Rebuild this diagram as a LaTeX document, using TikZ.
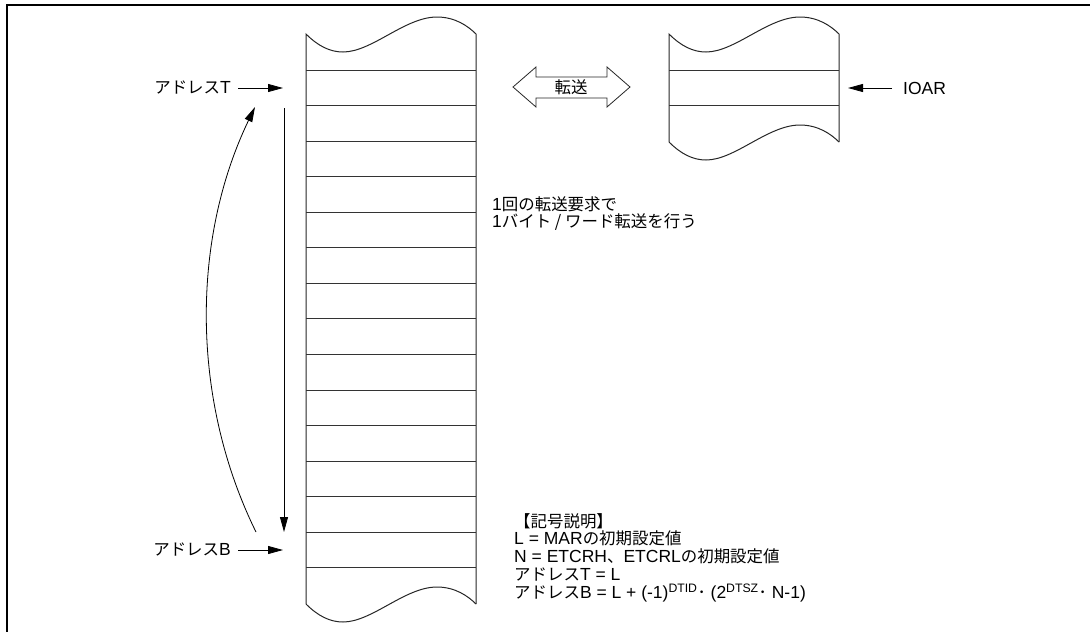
\documentclass[tikz,border=0pt]{standalone}
\usepackage{fontspec}
\setmainfont{Liberation Sans}
\newfontfamily\jp[Scale=0.94]{Noto Sans CJK JP}
\usepackage{tikz}
\usetikzlibrary{arrows.meta}

\begin{document}
\begin{tikzpicture}[
    x=1pt, y=-1pt,
    font=\fontsize{17.5}{17.8}\selectfont,
    mem/.style={draw=black!85, line width=1pt},
    row/.style={draw=black!80, line width=1pt},
    ptr/.style={draw=black, line width=0.8pt, -{Triangle[length=15pt, width=8pt]}},
    lbl/.style={inner sep=0pt},
    txt/.style={inner sep=0pt, anchor=north west, align=left},
]

\def\rowh{35.57}
% wavy cut edge, 170 wide, from the current point
\def\cut{.. controls +(12,12) and +(-13,0) .. ++(37,18)
         .. controls +(29,0) and +(-32,0) .. ++(94,-35)
         .. controls +(18,0) and +(-8,-8) .. ++(39,17)}

\useasboundingbox (0,0) rectangle (1090,632);

% Frame (top and left only)
\draw[line width=2pt] (7,632) -- (7,5) -- (1090,5);

% Memory area
\draw[mem] (306,604) -- (306,34) \cut -- (476,604);
\draw[mem] (306,604) \cut;
\foreach \k in {0,...,14}
    \draw[row] (306,70+\k*\rowh) -- (476,70+\k*\rowh);

% I/O area
\draw[mem] (669,142) -- (669,34) \cut -- (839,142);
\draw[mem] (669,142) \cut;
\foreach \k in {0,1}
    \draw[row] (669,70+\k*\rowh) -- (839,70+\k*\rowh);

% Transfer
\draw[mem, line width=0.8pt] (513,87) -- (536,67) -- (536,77) -- (607,77) -- (607,67)
    -- (630,87) -- (607,107) -- (607,98) -- (536,98) -- (536,107) -- cycle;
\node (xfer) at (571,87) {\jp 転送};

% Pointers
\node[lbl, anchor=east] (adrT) at (231,88) {{\jp アドレス}T};
\node[lbl, anchor=east] (adrB) at (231,550) {{\jp アドレス}B};
\node[lbl, anchor=west] (ioar) at (903,88) {IOAR};
\coordinate (tT) at (283,88);
\coordinate (tB) at (283,550);
\coordinate (tIO) at (848,88);
\draw[ptr, shorten <=7pt] (adrT.east) -- (tT);
\draw[ptr, shorten <=7pt] (adrB.east) -- (tB);
\draw[ptr, shorten <=11pt] (ioar.west) -- (tIO);

% Scan direction and wrap-around
\coordinate (scanTop) at (284,108);
\coordinate (scanBot) at (284,532);
\draw[ptr] (scanTop) -- (scanBot);
\coordinate (backBot) at (256,532);
\coordinate (backTop) at (255,107);
\draw[ptr] (backBot) .. controls (191,400) and (191,240) .. (backTop);

% Notes
\node[txt] (note) at (492,196)
    {1{\jp 回の転送要求で}\\1{\jp バイト / ワード転送を行う}};
\node[txt] (legend) at (514,513)
    {{\jp 【記号説明】}\\
     L = MAR{\jp の初期設定値}\\
     N = ETCRH{\jp 、}ETCRL{\jp の初期設定値}\\
     {\jp アドレス}T = L\\
     {\jp アドレス}B = L + (-1)\textsuperscript{DTID}{\jp ･} (2\textsuperscript{DTSZ}{\jp ･} N-1)};

\end{tikzpicture}
\end{document}
